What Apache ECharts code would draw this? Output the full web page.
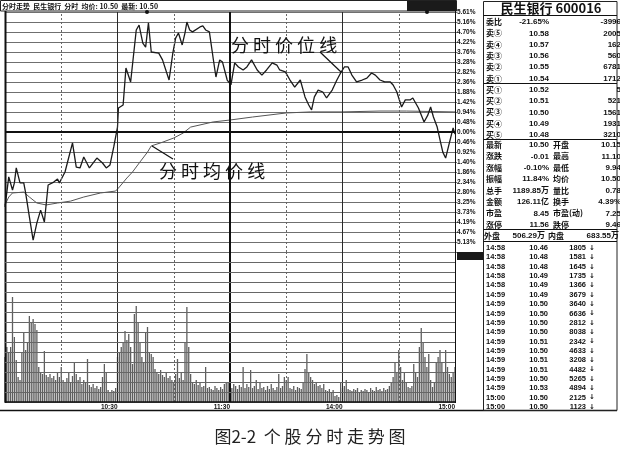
<!DOCTYPE html>
<html><head><meta charset="utf-8">
<script src="https://cdn.jsdelivr.net/npm/echarts@6/dist/echarts.min.js"></script>
<style>html,body{margin:0;padding:0;background:#fff}#c{width:620px;height:451px}</style>
</head><body><div id="c"></div>
<script>
// ---- data ----
const priceMinutes = [0,2,4,5,6,8,10,11,13,15,17,19,21,23,26,28,29,32,36,38,40,42,43,45,46,49,52,54,56,58,60,60.5,63,64.5,67,68,70,71.5,73.5,75,76.5,78,79,82,84,87.5,89.5,91,92.5,94.5,96,97,98.5,100,104,105.5,107,109,111,112.5,114.5,116,118.5,120.5,122.5,124.5,127,129,131.5,134.5,137,139.5,142.5,145,146.5,149.5,152,154.5,157.5,160,162,163.5,165,167,169.5,171.5,174.5,177,179,181,183,185,187.5,190.5,193,195.5,197.5,200,202.5,205.5,207,209,211.5,213.5,216,217.5,220.5,223.5,225.5,227,228.5,230.5,232,233.5,235,237,239,240];
const pricePct = [-3.50,-2.10,-2.71,-2.38,-1.68,-2.38,-2.38,-2.85,-3.97,-5.05,-4.25,-3.65,-4.21,-2.48,-2.34,-2.20,-2.38,-1.87,-0.51,-1.64,-1.68,-1.17,-1.08,-1.68,-1.64,-1.22,-1.45,-1.68,-1.54,-0.70,0.23,1.12,1.26,2.99,2.34,2.29,4.77,5.00,4.16,3.97,5.10,3.74,3.74,3.69,3.37,2.43,3.69,4.39,4.63,4.07,4.63,5.14,4.77,4.68,4.91,4.96,4.77,4.68,3.46,2.57,3.37,3.27,2.43,2.20,3.23,3.04,2.90,3.04,3.37,2.90,2.66,2.90,3.23,3.13,2.90,2.81,2.43,2.10,2.43,1.64,1.26,1.03,1.64,1.96,1.87,1.59,1.96,2.43,2.76,3.04,3.04,2.66,2.34,2.43,2.52,2.76,2.66,2.43,2.34,2.34,2.20,1.87,1.17,1.50,1.50,1.59,1.12,0.47,0.79,1.17,0.70,0.23,-0.37,-0.94,-1.22,-0.51,0.19,-0.10];
const avgMinutes = [0,2,4,10,13,17,22,28,35,42,51,59,61,65,68,72,76,78,83,90,95,99,104,111,120,132,150,163,180,200,214,239,240];
const avgPct = [-3.41,-3.04,-2.85,-2.81,-3.04,-3.32,-3.41,-3.32,-3.23,-3.04,-2.85,-2.76,-2.57,-2.15,-1.87,-1.40,-0.94,-0.65,-0.51,-0.28,-0.05,0.23,0.33,0.47,0.56,0.70,0.89,0.94,0.94,0.98,0.98,0.94,0.94];
const volume = [
45,55,50,55,105,65,42,25,22,50,
70,52,60,86,80,83,78,72,35,30,
28,51,27,25,28,24,26,22,30,25,
35,22,20,24,30,20,26,40,28,22,
25,18,22,20,43,17,15,18,14,16,
13,15,25,38,30,12,10,12,11,14,
45,50,55,60,71,62,68,55,38,88,
96,80,60,45,40,70,75,50,48,45,
33,30,28,32,27,25,30,24,26,22,
20,28,43,24,30,22,60,95,55,28,
20,18,22,17,19,15,16,35,14,15,
13,12,16,14,12,15,13,18,20,20,
35,14,18,16,13,17,15,35,14,18,
15,32,14,16,22,13,20,14,15,12,
16,13,18,14,12,15,28,14,16,25,
22,25,14,13,16,12,15,14,13,20,
33,48,30,25,22,18,20,16,17,14,
18,12,11,13,10,12,6,7,5,20,
14,16,22,13,12,11,13,12,14,10,
12,11,13,12,10,14,12,11,15,12,
13,11,14,12,13,16,20,25,40,30,
52,35,22,30,20,15,14,16,38,30,
25,55,74,60,45,35,48,22,15,20,
40,45,52,40,30,52,35,28,25,30,35];
const pctTickLabels = ['5.61%','5.16%','4.70%','4.22%','3.76%','3.28%','2.82%','2.36%','1.88%','1.42%','0.94%','0.48%','0.00%','0.46%','0.92%','1.40%','1.86%','2.34%','2.80%','3.25%','3.73%','4.19%','4.67%','5.13%'];
const timeTickMinutes = [60,120,180,240];
const timeTickLabels = ['10:30','11:30','14:00','15:00'];
const headerText = '分时走势  民生银行  分时  均价: 10.50  最新: 10.50';
const stockTitle = '民生银行 600016';
const orderLabels = ['委比','卖⑤','卖④','卖③','卖②','卖①','买①','买②','买③','买④','买⑤'];
const orderPrices = ['-21.65%','10.58','10.57','10.56','10.55','10.54','10.52','10.51','10.50','10.49','10.48'];
const orderVols = ['-3996','2005','162','560','6781','1712','5','521','1561','1931','3210'];
const statLabels = ['最新','涨跌','涨幅','振幅','总手','金额','市盈','涨停'];
const statValues = ['10.50','-0.01','-0.10%','11.84%','1189.85万','126.11亿','8.45','11.56'];
const statLabels2 = ['开盘','最高','最低','均价','量比','换手','市盈(动)','跌停'];
const statValues2 = ['10.15','11.10','9.94','10.50','0.78','4.39%','7.25','9.46'];
const outerRow = ['外盘','506.29万','内盘','683.55万'];
const tradeTimes = ['14:58','14:58','14:58','14:58','14:58','14:59','14:59','14:59','14:59','14:59','14:59','14:59','14:59','14:59','14:59','14:59','15:00','15:00'];
const tradePrices = ['10.46','10.48','10.48','10.49','10.49','10.49','10.50','10.50','10.50','10.50','10.51','10.50','10.51','10.51','10.50','10.53','10.50','10.50'];
const tradeVols = ['1805','1581','1645','1735','1366','3679','3640','6636','2812','8038','2342','4633','3208','4482','5265','4894','2125','1123'];
const annotPrice = '分 时 价 位 线';
const annotAvg = '分 时 均 价 线';
const caption = '图2-2  个 股 分 时 走 势 图';

// ---- build ----
const chart = echarts.init(document.getElementById('c'), null, {renderer:'canvas'});
const pctMax = 5.61, pctStep = 0.4675, volMax = 150, volStep = 10;
const F = '"Liberation Sans","Noto Sans CJK SC",sans-serif';
const CJK = '"Noto Sans CJK SC",sans-serif';
const gridCol = '#6f6f6f';
function T(x,y,text,o){o=o||{};return {type:'text',silent:true,z:50,style:{x:x,y:y,text:text,fill:o.fill||'#111',
  fontSize:o.size||8,fontWeight:o.weight||'bold',fontFamily:o.family||CJK,textAlign:o.align||'left',textVerticalAlign:'middle'}};}
function L(x1,y1,x2,y2,w,c,z){return {type:'line',silent:true,z:z==null?40:z,shape:{x1:x1,y1:y1,x2:x2,y2:y2},style:{stroke:c||'#111',lineWidth:w||1}};}

const g = [];
g.push({type:'rect',z:40,silent:true,shape:{x:0.5,y:0.5,width:456,height:10.5},style:{fill:'#fff',stroke:'#222',lineWidth:1}});
g.push({type:'rect',z:41,silent:true,shape:{x:407,y:1,width:49,height:10},style:{fill:'#1a1a1a'}});
g.push(T(2,6,headerText,{size:7}));
g.push({type:'circle',z:45,silent:true,shape:{cx:147,cy:12,r:2},style:{fill:'#111'}});
g.push({type:'circle',z:45,silent:true,shape:{cx:427,cy:12,r:2},style:{fill:'#111'}});
g.push(L(5.5,11,5.5,403,2));
g.push(L(455.5,11,455.5,403,1));
g.push(L(0,410.5,617,410.5,1.5));
g.push({type:'rect',z:41,silent:true,shape:{x:457,y:252,width:26,height:8},style:{fill:'#1a1a1a'}});
g.push({type:'rect',z:40,silent:true,shape:{x:483.5,y:1.5,width:133.5,height:409},style:{fill:'none',stroke:'#222',lineWidth:1}});
g.push(L(483.5,15.5,617,15.5,1));
g.push(L(483.5,83.5,617,83.5,1));
g.push(L(483.5,139.5,617,139.5,1));
g.push(L(483.5,229.5,617,229.5,1));
g.push(L(483.5,241.5,617,241.5,1));
g.push(T(551,8,stockTitle,{size:13,family:'"Noto Sans CJK SC","DejaVu Serif",serif',align:'center',weight:'bold'}));
orderLabels.forEach((lab,i)=>{const y=22+i*11.3;
  g.push(T(486,y,lab)); g.push(T(549,y,orderPrices[i],{align:'right',family:F}));
  g.push(T(621,y,orderVols[i],{align:'right',family:F}));});
statLabels.forEach((lab,i)=>{const y=145+i*11.4;
  g.push(T(486,y,lab)); g.push(T(549,y,statValues[i],{align:'right',family:F}));
  g.push(T(553,y,statLabels2[i])); g.push(T(621,y,statValues2[i],{align:'right',family:F}));});
g.push(T(484,235.5,outerRow[0])); g.push(T(545,235.5,outerRow[1],{align:'right',family:F}));
g.push(T(548,235.5,outerRow[2])); g.push(T(619,235.5,outerRow[3],{align:'right',family:F}));
tradeTimes.forEach((t,i)=>{const y=248+i*9.35;
  g.push(T(486,y,t,{family:F,size:7.5})); g.push(T(548,y,tradePrices[i],{align:'right',family:F,size:7.5}));
  g.push(T(586,y,tradeVols[i],{align:'right',family:F,size:7.5})); g.push(T(589,y,'↓',{family:'"DejaVu Sans"',size:7}));});
g.push(T(231,45,annotPrice,{size:18,weight:'normal'}));
g.push(L(320,52,341,72,1.2));
g.push(T(159,171,annotAvg,{size:18,weight:'normal'}));
g.push(L(152,146,173,159,1.2));
g.push(T(310,437,caption,{size:17,weight:'normal',align:'center',fill:'#222'}));

const priceData = priceMinutes.map((m,i)=>[m,pricePct[i]]);
const avgData = avgMinutes.map((m,i)=>[m,avgPct[i]]);
const volData = volume.map((v,i)=>[i,v]);

const vLines = [];
[30,90,150,210].forEach(m=>vLines.push({xAxis:m,lineStyle:{color:'#666',width:1,type:[2,2]}}));
[60,180].forEach(m=>vLines.push({xAxis:m,lineStyle:{color:'#2a2a2a',width:1,type:'solid'}}));
vLines.push({xAxis:120,lineStyle:{color:'#111',width:2,type:'solid'}});
const ml = d => ({silent:true,symbol:'none',label:{show:false},emphasis:{disabled:true},animation:false,data:d});

chart.setOption({
  animation:false,
  grid:[{left:5,top:12,width:450,height:240},{left:5,top:252,width:450,height:150}],
  xAxis:[
    {type:'value',gridIndex:0,min:0,max:240,interval:60,axisLine:{show:false},axisTick:{show:false},axisLabel:{show:false},splitLine:{show:false}},
    {type:'value',gridIndex:1,min:0,max:240,interval:60,axisLine:{show:false},axisTick:{show:false},splitLine:{show:false},
     axisLabel:{show:true,margin:2,fontSize:6.5,fontWeight:'bold',fontFamily:F,color:'#111',align:'right',
       formatter:v=>{const k=timeTickMinutes.indexOf(v);return k>=0?timeTickLabels[k]:'';}}}
  ],
  yAxis:[
    {type:'value',gridIndex:0,position:'right',min:-pctMax,max:pctMax,interval:pctStep,
     axisLine:{show:false},axisTick:{show:true,length:2,lineStyle:{color:'#444'}},
     splitLine:{show:true,lineStyle:{color:gridCol,width:1,type:'solid'}},
     axisLabel:{show:true,margin:2,fontSize:6.5,fontWeight:'bold',fontFamily:F,color:'#111',
       formatter:v=>{const k=Math.round((pctMax-v)/pctStep);return pctTickLabels[k]||'';}}},
    {type:'value',gridIndex:1,position:'right',min:0,max:volMax,interval:volStep,
     axisLine:{show:false},axisTick:{show:false},axisLabel:{show:false},
     splitLine:{show:true,lineStyle:{color:gridCol,width:1,type:'solid'}}}
  ],
  series:[
    {type:'line',name:'pgrid',xAxisIndex:0,yAxisIndex:0,data:[],z:1,markLine:ml(vLines.filter(d=>d.xAxis!==120))},
    {type:'line',name:'avg',xAxisIndex:0,yAxisIndex:0,data:avgData,symbol:'none',z:3,
     lineStyle:{color:'#555',width:1}},
    {type:'line',name:'price',xAxisIndex:0,yAxisIndex:0,data:priceData,symbol:'none',z:4,
     lineStyle:{color:'#1a1a1a',width:1.3},
     markLine:ml([{yAxis:0,lineStyle:{color:'#111',width:2,type:'solid'}},{xAxis:120,lineStyle:{color:'#111',width:2,type:'solid'}}])},
    {type:'bar',name:'vol',xAxisIndex:1,yAxisIndex:1,data:volData,barWidth:1.3,itemStyle:{color:'#5e5e5e'},z:3},
    {type:'line',name:'vgrid',xAxisIndex:1,yAxisIndex:1,data:[],z:5,
     markLine:ml(vLines.concat([{yAxis:0,lineStyle:{color:'#111',width:1.5,type:'solid'}}]))}
  ],
  graphic:g
});

// horizontal rules positioned with the axes' scales
function px(finder,v,fallback){const p=chart.convertToPixel(finder,v);return (typeof p==='number'&&isFinite(p))?p:fallback;}
const gx0 = px({xAxisIndex:0},0,5), gx1 = px({xAxisIndex:0},240,455);
for (let k=0;k<=24;k++){ if(k===12) continue; const v=pctMax-k*pctStep;
  const y = Math.round(px({yAxisIndex:0},v,12+240*(pctMax-v)/(2*pctMax)))+0.5;
  g.push(L(gx0,y,gx1+2,y,1,gridCol,2)); }
for (let k=1;k<volMax/volStep;k++){ const v=k*volStep;
  const y = Math.round(px({yAxisIndex:1},v,402-150*v/volMax))+0.5;
  g.push(L(gx0,y,gx1,y,1,'#666',42)); }
chart.setOption({graphic:g}, {replaceMerge:['graphic']});
</script></body></html>
